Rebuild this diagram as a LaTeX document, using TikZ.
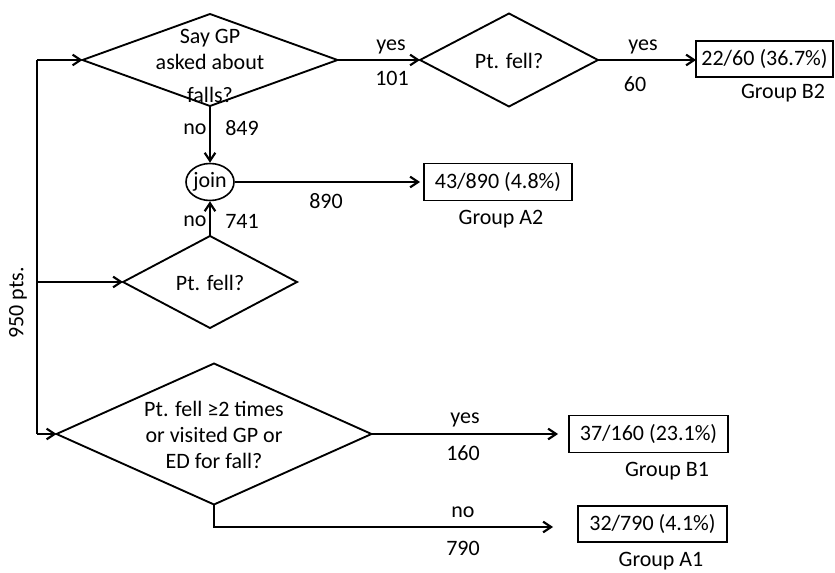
\documentclass[tikz,border=0pt]{standalone}
\usepackage{fontspec}
\setmainfont{Carlito}
\usetikzlibrary{arrows.meta,shapes.geometric}
\newdimen\pxu \pxu=0.75pt
\begin{document}
\begin{tikzpicture}[x=0.75pt,y=-0.75pt,
  every node/.style={font=\fontsize{16.5}{19.5}\selectfont},
  line/.style={line width=1.6pt,line join=miter},
  arr/.style={line, -{Straight Barb[length=6pt,width=8pt,line width=1.6pt]}},
  dia/.style={draw,line width=1.4pt,shape=diamond,inner sep=0pt,outer sep=0pt},
  res/.style={draw,line width=1.2pt,inner sep=0pt,outer sep=0pt},
  lab/.style={inner sep=0pt}]
\useasboundingbox (0,0) rectangle (835,573);
% diamonds
\node[dia,minimum width=255\pxu,minimum height=92\pxu] (d1) at (210,60) {};
\node[lab,align=center] (t1) at (210,65.5) {Say GP\\asked about\\[7\pxu]falls?};
\node[dia,minimum width=178\pxu,minimum height=93\pxu] (d2) at (509,60) {};
\node[lab] (t2) at (509,61) {Pt. fell?};
\node[dia,minimum width=174\pxu,minimum height=92\pxu] (d3) at (210,282) {};
\node[lab] (t3) at (210,283) {Pt. fell?};
\node[dia,minimum width=315\pxu,minimum height=141\pxu] (d4) at (214,434) {};
\node[lab,align=center] (t4) at (214,435) {Pt. fell ≥2 times\\or visited GP or\\ED for fall?};
% join
\node[draw,line width=1.2pt,ellipse,inner sep=0pt,minimum width=48\pxu,minimum height=37\pxu] (jn) at (210,182) {join};
% result boxes
\node[res,minimum width=137\pxu,minimum height=36\pxu] (b2) at (764.5,59) {22/60 (36.7\%)};
\node[res,minimum width=148\pxu,minimum height=37\pxu] (a2) at (498,182) {43/890 (4.8\%)};
\node[res,minimum width=159\pxu,minimum height=37\pxu] (b1) at (648.5,434) {37/160 (23.1\%)};
\node[res,minimum width=149\pxu,minimum height=36\pxu] (a1) at (652.5,524) {32/790 (4.1\%)};
\node[lab] (gb2) at (783,93) {Group B2};
\node[lab] (ga2) at (501,219) {Group A2};
\node[lab] (gb1) at (667,471) {Group B1};
\node[lab] (ga1) at (661,561) {Group A1};
% trunk
\coordinate (s1) at (37,60);
\coordinate (s3) at (37,282);
\coordinate (s4) at (37,434);
\coordinate (a1in) at (553,527);
\draw[line] (s1) -- (s4);
\draw[arr] (s1) -- (d1.west);
\draw[arr] (s3) -- (d3.west);
\draw[arr] (s4) -- (d4.west);
\node[lab,rotate=90] (n950) at (18,303) {950 pts.};
% connectors
\draw[arr] (d1.east) -- (d2.west);
\draw[arr] (d2.east) -- (b2.west |- d2.east);
\draw[arr] (d1.south) -- (jn.north);
\draw[arr] (d3.north) -- (jn.south);
\draw[arr,shorten >=4\pxu] (jn.east) -- (a2.west);
\draw[arr,shorten >=11\pxu] (d4.east) -- (b1.west);
\draw[arr] (d4.south) |- (a1in);
% labels
\node[lab] at (391,47) {yes};
\node[lab] at (392,78) {101};
\node[lab] at (643,47) {yes};
\node[lab] at (635,84) {60};
\node[lab] at (195,129) {no};
\node[lab] at (242,128) {849};
\node[lab] at (326,201) {890};
\node[lab] at (195,221) {no};
\node[lab] at (242,221) {741};
\node[lab] at (465,420) {yes};
\node[lab] at (463,453) {160};
\node[lab] at (463,512) {no};
\node[lab] at (463,548) {790};
\end{tikzpicture}
\end{document}
